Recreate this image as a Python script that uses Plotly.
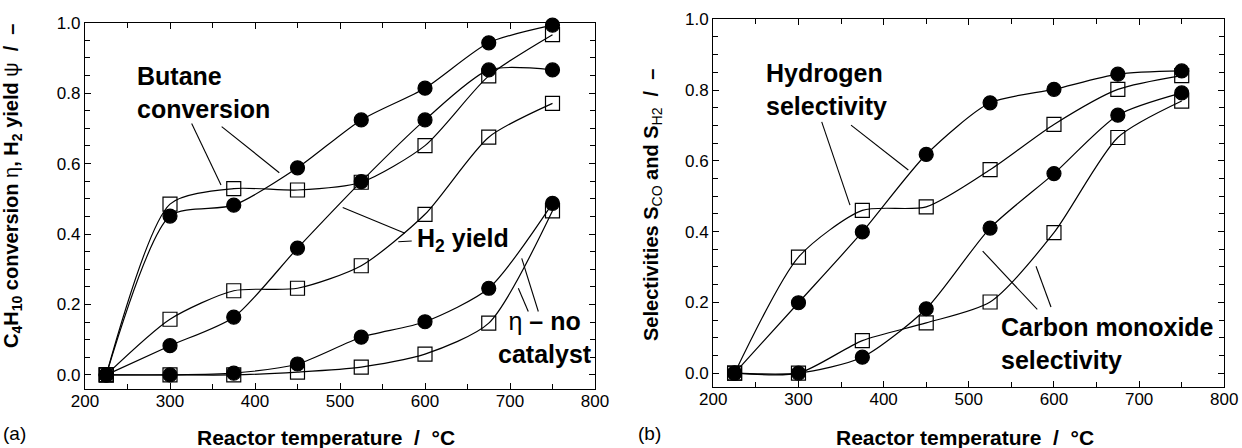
import plotly.graph_objects as go

# ---------------- data ----------------
temps = [225, 300, 375, 450, 525, 600, 675, 750]

# panel (a): conversion / yield
conv_circ = [0.0, 0.451, 0.482, 0.588, 0.724, 0.814, 0.943, 0.993]
conv_sq = [0.0, 0.485, 0.529, 0.525, 0.547, 0.651, 0.849, 0.966]
h2y_circ = [0.0, 0.083, 0.164, 0.360, 0.549, 0.724, 0.866, 0.866]
h2y_sq = [0.0, 0.158, 0.239, 0.246, 0.310, 0.456, 0.675, 0.771]
nocat_circ = [0.0, 0.0, 0.005, 0.031, 0.107, 0.151, 0.246, 0.487]
nocat_sq = [0.0, 0.0, 0.0, 0.008, 0.022, 0.059, 0.147, 0.466]

# panel (b): selectivities
sh2_circ = [0.0, 0.199, 0.399, 0.618, 0.764, 0.802, 0.845, 0.854]
sh2_sq = [0.0, 0.328, 0.460, 0.470, 0.575, 0.703, 0.802, 0.841]
sco_circ = [0.0, 0.0, 0.045, 0.182, 0.410, 0.564, 0.729, 0.792]
sco_sq = [0.0, 0.0, 0.092, 0.142, 0.201, 0.397, 0.666, 0.769]

FONT = "Liberation Sans, Arial, Helvetica, sans-serif"
W, H = 1242, 448

fig = go.Figure()


def add_series(y, sym, xa, ya):
    fig.add_trace(go.Scatter(
        x=temps, y=y, mode="lines+markers", xaxis=xa, yaxis=ya,
        line=dict(color="black", width=1.2, shape="spline", smoothing=0.7),
        marker=dict(symbol=sym, size=14, color="black", line=dict(color="black", width=1.2)),
        cliponaxis=False, showlegend=False, hoverinfo="skip"))


for s in (conv_sq, h2y_sq, nocat_sq):
    add_series(s, "square-open", "x", "y")
for s in (conv_circ, h2y_circ, nocat_circ):
    add_series(s, "circle", "x", "y")
for s in (sh2_sq, sco_sq):
    add_series(s, "square-open", "x2", "y2")
for s in (sh2_circ, sco_circ):
    add_series(s, "circle", "x2", "y2")

xcommon = dict(range=[200, 800], tick0=200, dtick=100, ticks="inside", ticklen=6,
               tickwidth=1, tickcolor="black", showline=True, linecolor="black",
               linewidth=1.3, mirror="ticks", showgrid=False, zeroline=False, automargin=False,
               ticklabelstandoff=-4,
               tickfont=dict(family=FONT, size=17, color="black"),
               minor=dict(dtick=50, ticks="inside", ticklen=5, tickcolor="black", tickwidth=1))
ycommon = dict(range=[-0.04, 1.0], tick0=0, dtick=0.2, tickformat=".1f", ticks="inside",
               ticklen=6, tickwidth=1, tickcolor="black", showline=True, linecolor="black",
               linewidth=1.3, mirror="ticks", showgrid=False, zeroline=False, automargin=False,
               tickfont=dict(family=FONT, size=17, color="black"),
               minor=dict(dtick=0.05, ticks="inside", ticklen=5, tickcolor="black", tickwidth=1))

fig.update_layout(
    width=W, height=H, autosize=False, margin=dict(l=0, r=0, t=0, b=0, pad=0),
    paper_bgcolor="white", plot_bgcolor="white",
    xaxis=dict(domain=[85 / W, 595 / W], anchor="y", **xcommon),
    yaxis=dict(domain=[1 - 389 / H, 1 - 22.7 / H], anchor="x", **ycommon),
    xaxis2=dict(domain=[713.3 / W, 1224.3 / W], anchor="y2", **xcommon),
    yaxis2=dict(domain=[1 - 387.3 / H, 1 - 19.3 / H], anchor="x2", **ycommon),
)

# leader lines
leaders_a = [
    (325.5, 0.714, 360.0, 0.539),
    (360.8, 0.705, 428.6, 0.574),
    (503.2, 0.475, 576.5, 0.402),
    (568.6, 0.378, 584.4, 0.380),
    (713.8, 0.331, 733.3, 0.180),
    (709.8, 0.246, 721.5, 0.180),
]
leaders_b = [
    (327.3, 0.710, 360.5, 0.475),
    (361.7, 0.701, 429.0, 0.574),
    (516.3, 0.345, 580.4, 0.180),
    (578.9, 0.302, 596.5, 0.187),
]
for (x0, y0, x1, y1) in leaders_a:
    fig.add_shape(type="line", xref="x", yref="y", x0=x0, y0=y0, x1=x1, y1=y1,
                  line=dict(color="black", width=1.1))
for (x0, y0, x1, y1) in leaders_b:
    fig.add_shape(type="line", xref="x2", yref="y2", x0=x0, y0=y0, x1=x1, y1=y1,
                  line=dict(color="black", width=1.1))

LBL = dict(family=FONT, size=25, color="black")


def note(text, x, y, xref, yref, xanchor="left", align="left", font=LBL, **kw):
    fig.add_annotation(text=text, x=x, y=y, xref=xref, yref=yref, xanchor=xanchor,
                       yanchor="middle", align=align, showarrow=False, font=font, **kw)


note("<b>Butane<br>conversion</b>", 258.8, 0.802, "x", "y")
note("<b>H<sub>2</sub> yield</b>", 588.2, 0.383, "x", "y")
note("<span style='font-weight:normal'>η</span><b> – no<br>catalyst</b>", 741, 0.105, "x", "y",
     xanchor="center", align="center")
note("<b>Hydrogen<br>selectivity</b>", 259.5, 0.801, "x2", "y2")
note("<b>Carbon monoxide<br>selectivity</b>", 535.8, 0.085, "x2", "y2")

# axis titles
TFONT = dict(family=FONT, size=21, color="black")
NB = "\u00a0"
xt = f"<b>Reactor temperature{NB}{NB}/{NB}{NB}°C</b>"
fig.add_annotation(text=xt, x=326 / W, y=1 - 437 / H, xref="paper", yref="paper",
                   xanchor="center", yanchor="middle", showarrow=False, font=TFONT)
fig.add_annotation(text=xt, x=965 / W, y=1 - 437 / H, xref="paper", yref="paper",
                   xanchor="center", yanchor="middle", showarrow=False, font=TFONT)

yt_a = ("<b>C<sub>4</sub>H<sub>10</sub> conversion </b><span style='font-weight:normal'>η</span>"
        "<b>, H<sub>2</sub> yield </b><span style='font-weight:normal'>ψ</span>"
        f"<b>{NB}{NB}/{NB}{NB}–</b>")
fig.add_annotation(text=yt_a, x=12 / W, y=1 - 186 / H, xref="paper", yref="paper",
                   xanchor="center", yanchor="middle", textangle=-90, showarrow=False,
                   font=dict(family=FONT, size=20, color="black"))
yt_b = (f"<b>Selectivities S</b><sub>CO</sub><b> and S</b><sub>H2</sub><b>{NB}{NB}/{NB}{NB}–</b>")
fig.add_annotation(text=yt_b, x=652 / W, y=1 - 205 / H, xref="paper", yref="paper",
                   xanchor="center", yanchor="middle", textangle=-90, showarrow=False,
                   font=dict(family=FONT, size=20, color="black"))

PF = dict(family=FONT, size=19, color="black")
fig.add_annotation(text="(a)", x=1 / W, y=1 - 433 / H, xref="paper", yref="paper",
                   xanchor="left", yanchor="middle", showarrow=False, font=PF)
fig.add_annotation(text="(b)", x=636 / W, y=1 - 433 / H, xref="paper", yref="paper",
                   xanchor="left", yanchor="middle", showarrow=False, font=PF)

fig.write_html("out.html")
